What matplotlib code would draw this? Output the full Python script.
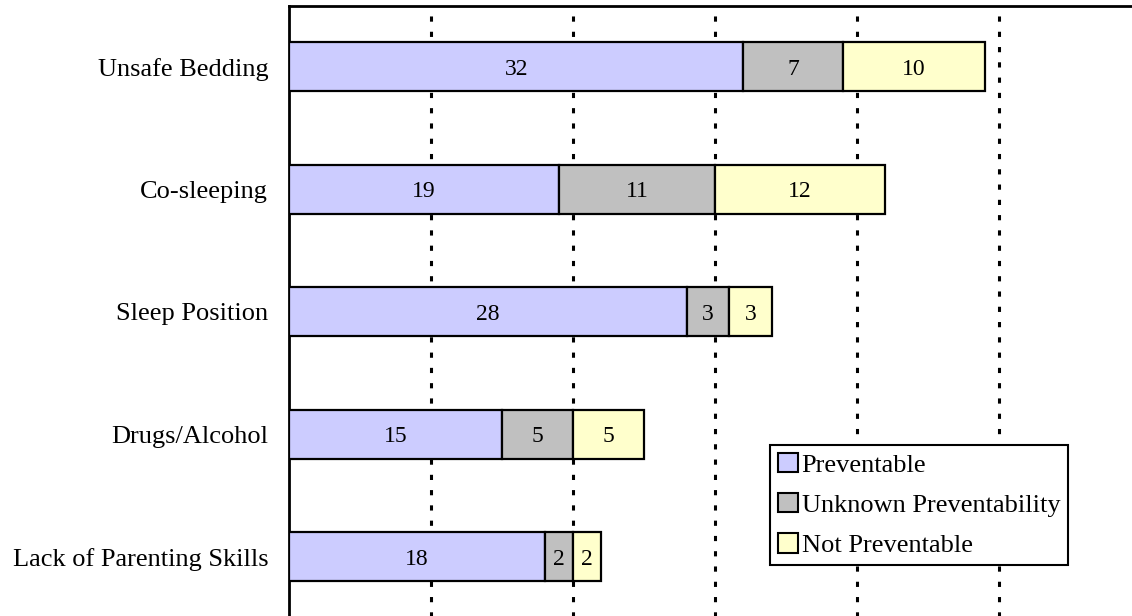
import matplotlib
matplotlib.use("Agg")
import matplotlib.pyplot as plt
import numpy as np

categories = ["Unsafe Bedding", "Co-sleeping", "Sleep Position", "Drugs/Alcohol", "Lack of Parenting Skills"]
preventable = [32, 19, 28, 15, 18]
unknown = [7, 11, 3, 5, 2]
not_preventable = [10, 12, 3, 5, 2]
series_names = ["Preventable", "Unknown Preventability", "Not Preventable"]
colors = ["#ccccff", "#c0c0c0", "#ffffcc"]

plt.rcParams["font.family"] = ["Liberation Serif", "DejaVu Serif"]

W, H = 1132, 616
fig = plt.figure(figsize=(W / 100, H / 100), dpi=100)

# axes: left spine at x=289 px, top spine at y=6 px; extends past the right and bottom edges
top_frac = 1 - 6 / H
ax = fig.add_axes([289 / W, -0.2, 1.0, top_frac + 0.2])

ypos = np.arange(len(categories))[::-1]
left = np.zeros(len(categories))
for vals, col, name in zip([preventable, unknown, not_preventable], colors, series_names):
    ax.barh(ypos, vals, left=left, height=0.4, color=col, edgecolor="black",
            linewidth=1.6, label=name, zorder=3)
    for yp, l, v in zip(ypos, left, vals):
        ax.text(l + v / 2, yp, str(v), ha="center", va="center_baseline", fontsize=17, zorder=4)
    left = left + np.array(vals)

# x scale: 14.2 px per unit
ax.set_xlim(0, W / 14.2)
# y scale: rows 122.5 px apart, top row centred at y=67 px
px_per_unit = 122.5
axes_h_px = (top_frac + 0.2) * H
ytop = 4 + (67 - 6) / px_per_unit
ax.set_ylim(ytop - axes_h_px / px_per_unit, ytop)

ax.set_xticks([10, 20, 30, 40, 50])
ax.set_xticklabels([])
ax.tick_params(axis="x", length=0)
ax.xaxis.grid(True, color="black", linestyle=(0, (1.7, 3.3)), linewidth=2.2, zorder=0)
ax.set_axisbelow(True)

ax.set_yticks(ypos)
ax.set_yticklabels(categories, fontsize=19)
ax.tick_params(axis="y", length=0, pad=15)

for s in ["right", "bottom"]:
    ax.spines[s].set_visible(False)
for s in ["top", "left"]:
    ax.spines[s].set_linewidth(2)

leg = fig.legend(loc="upper left", bbox_to_anchor=(770 / W, 1 - 445 / H),
                 bbox_transform=fig.transFigure, fontsize=19,
                 frameon=True, fancybox=False, edgecolor="black", framealpha=1,
                 handlelength=0.75, handleheight=0.75, handletextpad=0.15,
                 borderpad=0.3, labelspacing=0.62, borderaxespad=0)
leg.get_frame().set_linewidth(1.5)
for h in leg.legend_handles:
    h.set_linewidth(1.5)

fig.savefig("out.png", dpi=100)
